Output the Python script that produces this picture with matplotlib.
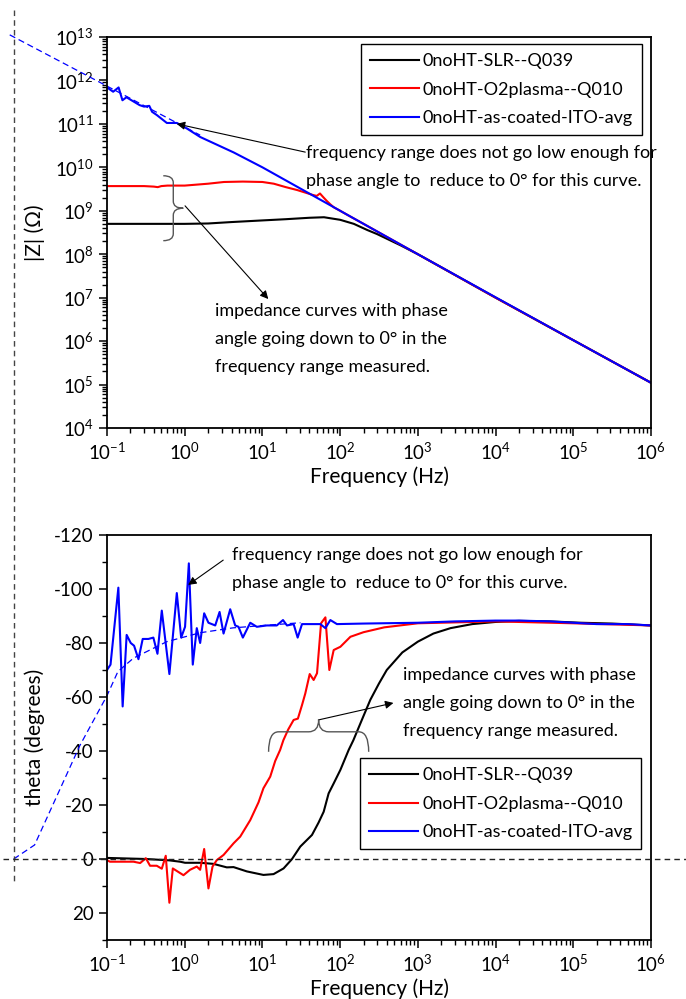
import numpy as np
import matplotlib
matplotlib.use('Agg')
import matplotlib.pyplot as plt
from matplotlib.path import Path
from matplotlib.patches import PathPatch
from matplotlib.lines import Line2D
import matplotlib.transforms as mtransforms
from matplotlib.ticker import LogLocator, MultipleLocator, NullFormatter

plt.rcParams['font.family'] = ['Lato', 'DejaVu Sans']
plt.rcParams['mathtext.fontset'] = 'custom'
plt.rcParams['mathtext.rm'] = 'Lato'
plt.rcParams['mathtext.it'] = 'Lato:italic'
plt.rcParams['axes.unicode_minus'] = False

# ---- |Z| data (top panel) ----
f_black_z = [0.1, 0.3, 1, 2, 4, 10, 20, 40, 62, 80, 100, 150, 224, 300, 600, 1e3, 1e4, 1e5, 1e6]
z_black = [5.0e8, 5.0e8, 5.0e8, 5.1e8, 5.5e8, 6.0e8, 6.4e8, 6.9e8, 7.1e8, 6.6e8, 6.2e8, 5.0e8,
           3.6e8, 2.9e8, 1.6e8, 1.0e8, 1.0e7, 1.05e6, 1.1e5]

f_red_z = [0.1, 0.2, 0.3, 0.4, 0.45, 0.5, 0.6, 1.0, 2.0, 3.2, 5.6, 10, 14, 20, 28, 45, 50, 55, 60,
           67, 75, 83, 100, 126, 200, 500, 1e3, 1e4, 1e5, 1e6]
z_red = [3.7e9, 3.7e9, 3.7e9, 3.6e9, 3.5e9, 3.7e9, 3.8e9, 3.8e9, 4.2e9, 4.6e9, 4.7e9, 4.6e9, 4.2e9,
         3.5e9, 3.0e9, 2.3e9, 2.2e9, 2.5e9, 2.1e9, 1.7e9, 1.4e9, 1.2e9, 1.0e9, 7.9e8, 5.0e8, 2.0e8,
         1.0e8, 1.0e7, 1.05e6, 1.1e5]

f_blue_z = [0.1, 0.12, 0.141, 0.158, 0.178, 0.263, 0.3, 0.35, 0.38, 0.437, 0.589, 0.794, 1.07, 1.58,
            4.27, 10, 20, 50, 100, 200, 500, 1e3, 1e4, 1e5, 1e6]
z_blue = [6.9e11, 5.5e11, 6.9e11, 3.5e11, 4.1e11, 2.7e11, 2.5e11, 2.6e11, 1.9e11, 1.6e11, 1.05e11,
          1.05e11, 7.8e10, 5.0e10, 2.2e10, 1.0e10, 5.0e9, 2.0e9, 1.0e9, 5.0e8, 2.0e8, 1.0e8, 1.02e7,
          1.05e6, 1.1e5]

# dashed extrapolation of the blue curve
f_blue_z_ext = [0.0056, 1.58]
z_blue_ext = [1.12e13, 5.5e10]

# ---- phase data (bottom panel) ----
f_black_p = [0.1, 0.316, 0.631, 0.871, 1.01, 1.58, 2.34, 3.48, 4.25, 6.31, 10.3, 13.9, 18.7, 23.9,
             30.7, 43.4, 52.8, 61.4, 71.1, 82.6, 100.7, 128.8, 148, 200, 245, 316, 398, 631, 1000,
             1585, 2630, 5012, 1e4, 2e4, 5e4, 1.26e5, 3.16e5, 1e6]
th_black = [-0.4, 0, 0.5, 1, 1.4, 1.4, 1.8, 3.1, 3, 4.6, 5.9, 5.6, 3.5, 0.1, -4.6, -8.9, -13.5,
            -17.5, -24.3, -28, -33, -40.4, -44, -53, -59, -65, -70, -76.5, -80.5, -83.5, -85.5,
            -87, -87.8, -88.2, -88, -87.5, -87.2, -86.5]

f_red_p = [0.1, 0.109, 0.147, 0.219, 0.267, 0.316, 0.358, 0.437, 0.507, 0.570, 0.635, 0.703, 0.964,
           1.17, 1.43, 1.58, 1.78, 2.02, 2.28, 2.59, 3.16, 4.25, 5.18, 6.97, 8.91, 10.3, 12.6, 14.6,
           16.9, 18.6, 21.5, 25.2, 28.6, 32.3, 35.6, 40.6, 45.6, 50.4, 56.8, 64.6, 72.6, 82.6,
           100.7, 135.5, 200, 370, 1000, 1e4, 1e5, 1e6]
th_red = [0.4, 1, 1, 1, 1.5, -0.3, 2.5, 2.5, 3.6, -1.2, 16.2, 3.5, 6, 4, 2.8, 4, -3.7, 10.9, 2.8,
          0.4, -1.5, -5.8, -8.3, -14.4, -21, -26.2, -30.5, -36.3, -40.4, -44, -48, -51.5, -52, -57,
          -61.3, -68.5, -66.3, -68.8, -87.3, -89.5, -70, -77.4, -78.6, -82.3, -84, -85.8, -87.3,
          -88, -87.3, -86.5]

f_blue_p = [0.1, 0.111, 0.14, 0.159, 0.179, 0.202, 0.223, 0.254, 0.288, 0.341, 0.395, 0.446, 0.507,
            0.558, 0.635, 0.791, 0.9, 1.01, 1.13, 1.27, 1.43, 1.58, 1.78, 2.02, 2.47, 2.81, 3.16,
            3.85, 4.46, 4.92, 5.6, 6.97, 8.47, 11.4, 15.3, 18.4, 20.7, 25.2, 28.4, 32.3, 55.6, 64.6,
            74.8, 91, 200, 1000, 3000, 1e4, 2e4, 5e4, 1e5, 2e5, 5e5, 1e6]
th_blue = [-70, -72, -100.5, -56.5, -83, -80, -79, -74, -81.5, -81.5, -82, -76, -92, -82, -68.5,
           -98.5, -82, -86, -109.5, -72, -85.5, -80, -91, -87.5, -86.5, -91.5, -83.5, -92.5, -86.5,
           -86, -82, -87.5, -86, -86.5, -86.5, -88.5, -86.5, -87, -82, -87, -87, -85.5, -88.5, -87,
           -87.2, -87.5, -88, -88.3, -88.3, -88, -87.5, -87, -87, -86.5]

f_blue_p_ext = [0.0063, 0.0117, 0.0447, 0.1, 0.138, 0.219, 0.589, 1.58, 4.17, 11.5, 30.9]
th_blue_ext = [0, -5.2, -42, -60.5, -69.4, -74.4, -80.5, -83.8, -85.6, -86.6, -87.5]

labels = ['0noHT-SLR--Q039', '0noHT-O2plasma--Q010', '0noHT-as-coated-ITO-avg']

note_top = 'frequency range does not go low enough for\nphase angle to  reduce to 0\u00b0 for this curve.'
note_bot = 'impedance curves with phase\nangle going down to 0\u00b0 in the\nfrequency range measured.'

FS = 13
LFS = 15
W, H = 686, 999

fig = plt.figure(figsize=(W / 100, H / 100), dpi=100)
ax1 = fig.add_axes([107 / W, 1 - 428 / H, 544 / W, 391 / H])
ax2 = fig.add_axes([107 / W, 1 - 940 / H, 544 / W, 405 / H])


def brace(ax, p0, p1, h1, h2, r, color='#555555'):
    a = ax.transData.transform(p0)
    b = ax.transData.transform(p1)
    d = b - a
    L = np.hypot(*d)
    u = d / L
    n = np.array([-u[1], u[0]])
    loc = [(0, 0), (0, h1), (r, h1), (L / 2 - r, h1), (L / 2, h1), (L / 2, h1 + h2),
           (L / 2, h1), (L / 2 + r, h1), (L - r, h1), (L, h1), (L, 0)]
    codes = [Path.MOVETO, Path.CURVE3, Path.CURVE3, Path.LINETO, Path.CURVE3, Path.CURVE3,
             Path.CURVE3, Path.CURVE3, Path.LINETO, Path.CURVE3, Path.CURVE3]
    pts = np.array([a + s * u + t * n for s, t in loc])
    pts = fig.transFigure.inverted().transform(pts)
    fig.add_artist(PathPatch(Path(pts, codes), transform=fig.transFigure, fill=False,
                             edgecolor=color, lw=1.0))


def style(ax):
    ax.set_xscale('log')
    ax.set_xlim(0.1, 1e6)
    ax.xaxis.set_major_locator(LogLocator(base=10, numticks=20))
    ax.xaxis.set_minor_locator(LogLocator(base=10, subs=np.arange(2, 10), numticks=20))
    ax.xaxis.set_minor_formatter(NullFormatter())
    ax.tick_params(which='major', direction='out', length=6, width=1.1, labelsize=FS + 0.5,
                   top=False, right=False)
    ax.tick_params(which='minor', direction='out', length=3.5, width=1.0, top=False, right=False)
    for s in ax.spines.values():
        s.set_linewidth(1.3)
    ax.set_xlabel('Frequency (Hz)', fontsize=LFS, labelpad=3)


def legend(ax, anchor):
    leg = ax.legend(loc='upper right', bbox_to_anchor=anchor, borderaxespad=0, fontsize=FS,
                    fancybox=False, edgecolor='black', framealpha=1, handlelength=2.7,
                    handletextpad=0.22, labelspacing=0.7, borderpad=0.5)
    leg.get_frame().set_linewidth(1.0)


def arrow(ax, tip, tail):
    ax.annotate('', xy=tip, xytext=tail,
                arrowprops=dict(arrowstyle='-|>', color='black', lw=0.8, shrinkA=0, shrinkB=0,
                                mutation_scale=12))


# ---- top panel ----
ax1.plot(f_black_z, z_black, color='black', lw=1.5, label=labels[0])
ax1.plot(f_red_z, z_red, color='red', lw=1.5, label=labels[1])
ax1.plot(f_blue_z, z_blue, color='blue', lw=1.5, label=labels[2])
ax1.plot(f_blue_z_ext, z_blue_ext, color='blue', lw=0.9, ls=(0, (5, 3)), clip_on=False)
ax1.set_yscale('log')
ax1.set_ylim(1e4, 1e13)
ax1.yaxis.set_major_locator(LogLocator(base=10, numticks=20))
ax1.yaxis.set_minor_locator(LogLocator(base=10, subs=np.arange(2, 10), numticks=20))
ax1.yaxis.set_minor_formatter(NullFormatter())
style(ax1)
ax1.set_ylabel('|Z| (\u03a9)', fontsize=LFS)
ax1.yaxis.set_label_coords(-0.114, 0.5)
legend(ax1, (0.983, 0.982))

ax1.text(0.366, 0.667, note_top, transform=ax1.transAxes, fontsize=FS, va='center', ha='left',
         linespacing=1.95)
arrow(ax1, (0.79, 1.0e11), (35.6, 2.24e10))
ax1.text(0.199, 0.228, note_bot, transform=ax1.transAxes, fontsize=FS, va='center', ha='left',
         linespacing=1.95)
arrow(ax1, (11.9, 9.3e6), (1.01, 1.3e9))

# ---- bottom panel ----
ax2.plot(f_black_p, th_black, color='black', lw=1.5, label=labels[0])
ax2.plot(f_red_p, th_red, color='red', lw=1.5, label=labels[1])
ax2.plot(f_blue_p, th_blue, color='blue', lw=1.5, label=labels[2])
ax2.plot(f_blue_p_ext, th_blue_ext, color='blue', lw=0.9, ls=(0, (5, 3)), clip_on=False)
ax2.set_ylim(30, -120)
ax2.yaxis.set_major_locator(MultipleLocator(20))
ax2.yaxis.set_minor_locator(MultipleLocator(10))
style(ax2)
ax2.set_ylabel('theta (degrees)', fontsize=LFS)
ax2.yaxis.set_label_coords(-0.114, 0.5)
legend(ax2, (0.982, 0.449))

ax2.text(0.230, 0.916, note_top, transform=ax2.transAxes, fontsize=FS, va='center', ha='left',
         linespacing=1.95)
arrow(ax2, (1.107, -101.5), (3.13, -110.7))
ax2.text(0.544, 0.585, note_bot, transform=ax2.transAxes, fontsize=FS, va='center', ha='left',
         linespacing=1.95)
arrow(ax2, (485, -57.8), (52.4, -51.5))

# braces
brace(ax1, (0.53, 6.4e9), (0.53, 2.05e8), 10, 10, 7)
brace(ax2, (12.0, -39.7), (233, -39.7), 20, 12, 10)

# dashed guide lines crossing both panels
tr_v = mtransforms.blended_transform_factory(ax2.transData, fig.transFigure)
fig.add_artist(Line2D([0.0063, 0.0063], [1 - 10 / H, 1 - 885 / H], transform=tr_v,
                      color='#444444', lw=1.0, ls=(0, (4, 3))))
tr_h = mtransforms.blended_transform_factory(fig.transFigure, ax2.transData)
fig.add_artist(Line2D([0.005, 1.0], [0, 0], transform=tr_h, color='#222222', lw=1.0,
                      ls=(0, (4, 3))))

fig.savefig('out.png', dpi=100)
